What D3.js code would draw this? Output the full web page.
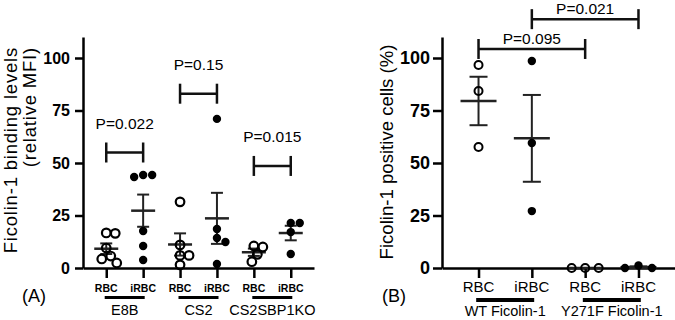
<!DOCTYPE html>
<html>
<head>
<meta charset="utf-8">
<script src="https://cdn.jsdelivr.net/npm/d3@7"></script>
<style>
  body { margin: 0; background: #fff; }
  svg { display: block; font-family: "Liberation Sans", Arial, sans-serif; }
</style>
</head>
<body>
<div id="chart"></div>
<script>
// ---- panel A data ----
const groupsA = ["E8B", "CS2", "CS2SBP1KO"];
const cellsA = ["RBC", "iRBC"];
const e8bRBC = [16.7, 16.5, 9.5, 5.7, 4.3, 2.4];
const e8bIRBC = [44.3, 43.3, 44.3, 17.6, 10.5, 3.8];
const cs2RBC = [31.5, 11, 6, 6, 1.5];
const cs2IRBC = [71, 18.6, 14.3, 12.4, 1.9];
const koRBC = [10.5, 10, 6.5, 3];
const koIRBC = [21.4, 21.4, 17.1, 6.7];
const pLabelsA = ["P=0.022", "P=0.15", "P=0.015"];
const pHeightsA = [55, 83, 48.6];

// ---- panel B data ----
const groupsB = ["WT Ficolin-1", "Y271F Ficolin-1"];
const cellsB = ["RBC", "iRBC"];
const wtRBC = [96.7, 84.3, 57.6];
const wtIRBC = [98.6, 59.5, 27.1];
const yfRBC = [0, 0, 0];
const yfIRBC = [0, 1.2, 0];
const pLabelsB = ["P=0.095", "P=0.021"];
const pHeightsB = [104.3, 118.5];

const yTicks = [0, 25, 50, 75, 100];

const svg = d3.select("#chart").append("svg")
  .attr("width", 675)
  .attr("height", 320);

const y = d3.scaleLinear().domain([0, 110]).range([268, 37]);

// series for each panel
const seriesA = [
  { key: "E8B RBC", vals: e8bRBC, open: true },
  { key: "E8B iRBC", vals: e8bIRBC, open: false },
  { key: "CS2 RBC", vals: cs2RBC, open: true },
  { key: "CS2 iRBC", vals: cs2IRBC, open: false },
  { key: "CS2SBP1KO RBC", vals: koRBC, open: true },
  { key: "CS2SBP1KO iRBC", vals: koIRBC, open: false }
];
const seriesB = [
  { key: "WT RBC", vals: wtRBC, open: true },
  { key: "WT iRBC", vals: wtIRBC, open: false },
  { key: "Y271F RBC", vals: yfRBC, open: true },
  { key: "Y271F iRBC", vals: yfIRBC, open: false }
];

const xA = d3.scalePoint().domain(seriesA.map(d => d.key)).range([83, 314]).padding(0.63);
const xB = d3.scalePoint().domain(seriesB.map(d => d.key)).range([442, 675]).padding(0.685);

// simple dodge so overlapping points spread sideways
function dodge(vals, minDist) {
  const sorted = vals.map(v => ({ v: v, py: y(v) })).sort((a, b) => a.py - b.py);
  const placed = [];
  sorted.forEach(p => {
    for (let k = 0; k < 60; k++) {
      const off = (k % 2 === 1 ? 1 : -1) * Math.ceil(k / 2) * 0.5;
      const ok = placed.every(q => Math.hypot(q.dx - off, q.py - p.py) >= minDist);
      if (ok) { p.dx = off; break; }
    }
    placed.push(p);
  });
  return placed;
}

function drawPanel(opt) {
  const g = svg.append("g");
  const x = opt.x;

  // y axis
  const yAxis = g.append("g")
    .attr("transform", `translate(${opt.x0},0)`)
    .call(d3.axisLeft(y).tickValues(yTicks).tickSize(opt.tickLen).tickSizeOuter(0).tickPadding(opt.tickPad));
  yAxis.selectAll("path, line").attr("stroke", "#000").attr("stroke-width", 2.5);
  yAxis.selectAll("text")
    .attr("fill", "#000")
    .style("font-size", opt.tickFont + "px")
    .style("font-weight", "bold")
    .style("font-family", "Liberation Sans, Arial, sans-serif");

  // x axis
  const xAxis = g.append("g")
    .attr("transform", `translate(0,${y(0)})`)
    .call(d3.axisBottom(x).tickSize(10).tickSizeOuter(0).tickFormat(""));
  xAxis.selectAll("path, line").attr("stroke", "#000").attr("stroke-width", 2.5);

  // category labels
  opt.series.forEach((s, i) => {
    g.append("text")
      .attr("x", x(s.key))
      .attr("y", 292)
      .attr("text-anchor", "middle")
      .style("font-size", opt.catFont + "px")
      .style("font-weight", opt.catBold ? "bold" : "normal")
      .text(opt.cells[i % 2]);
  });

  // group bars + labels
  opt.groups.forEach((grp, gi) => {
    const mid = (x(opt.series[gi * 2].key) + x(opt.series[gi * 2 + 1].key)) / 2;
    g.append("line")
      .attr("x1", mid - opt.barHalf).attr("x2", mid + opt.barHalf)
      .attr("y1", opt.barY).attr("y2", opt.barY)
      .attr("stroke", "#000").attr("stroke-width", opt.barW);
    g.append("text")
      .attr("x", mid)
      .attr("y", opt.groupY)
      .attr("text-anchor", "middle")
      .style("font-size", opt.groupFont + "px")
      .text(grp);
  });

  // mean +/- SEM
  opt.series.forEach(s => {
    const cx = x(s.key);
    const m = d3.mean(s.vals);
    const sem = d3.deviation(s.vals) / Math.sqrt(s.vals.length);
    const e = g.append("g").attr("stroke", "#222").attr("stroke-width", 2);
    e.append("line").attr("x1", cx).attr("x2", cx).attr("y1", y(m - sem)).attr("y2", y(m + sem));
    [m - sem, m + sem].forEach(v => {
      e.append("line").attr("x1", cx - opt.capHalf).attr("x2", cx + opt.capHalf)
        .attr("y1", y(v)).attr("y2", y(v));
    });
    e.append("line").attr("x1", cx - opt.meanHalf).attr("x2", cx + opt.meanHalf)
      .attr("y1", y(m)).attr("y2", y(m)).attr("stroke-width", 2.5);
  });

  // points
  opt.series.forEach(s => {
    const cx = x(s.key);
    g.selectAll(null)
      .data(dodge(s.vals, opt.minDist))
      .enter().append("circle")
      .attr("cx", d => cx + d.dx)
      .attr("cy", d => d.py)
      .attr("r", s.open ? opt.rOpen : opt.rFill)
      .attr("fill", s.open ? "none" : "#000")
      .attr("stroke", "#000")
      .attr("stroke-width", s.open ? opt.openStroke : 0);
  });

  // significance brackets
  opt.brackets.forEach(b => {
    const x1 = x(b.from), x2 = x(b.to), by = y(b.h);
    const br = g.append("g").attr("stroke", "#111").attr("stroke-width", 2.5);
    br.append("line").attr("x1", x1).attr("x2", x2).attr("y1", by).attr("y2", by);
    br.append("line").attr("x1", x1).attr("x2", x1).attr("y1", by - 10).attr("y2", by + 10);
    br.append("line").attr("x1", x2).attr("x2", x2).attr("y1", by - 10).attr("y2", by + 10);
    g.append("text")
      .attr("x", (x1 + x2) / 2)
      .attr("y", by - opt.pGap)
      .attr("text-anchor", "middle")
      .style("font-size", "15.5px")
      .text(b.label);
  });

  // panel letter
  g.append("text")
    .attr("x", opt.letterX)
    .attr("y", 302)
    .style("font-size", "18px")
    .text(opt.letter);

  return g;
}

drawPanel({
  x: xA, x0: 83, series: seriesA, cells: cellsA, groups: groupsA,
  tickLen: 8, tickPad: 5, tickFont: 16,
  catFont: 10.5, catBold: true,
  barHalf: 20, barY: 297.5, barW: 3, groupY: 315, groupFont: 14.5,
  capHalf: 6, meanHalf: 12, minDist: 9, rOpen: 4.3, rFill: 4.2, openStroke: 2.2,
  brackets: groupsA.map((grp, i) => ({
    from: grp + " RBC", to: grp + " iRBC", h: pHeightsA[i], label: pLabelsA[i]
  })),
  pGap: 24, letter: "(A)", letterX: 22
});

drawPanel({
  x: xB, x0: 442, series: seriesB, cells: cellsB, groups: groupsB,
  tickLen: 9, tickPad: 3, tickFont: 18,
  catFont: 15, catBold: false,
  barHalf: 29, barY: 300, barW: 4, groupY: 315.5, groupFont: 14.5,
  capHalf: 9, meanHalf: 18, minDist: 13.5, rOpen: 4, rFill: 4.2, openStroke: 2,
  brackets: [
    { from: "WT RBC", to: "Y271F RBC", h: pHeightsB[0], label: pLabelsB[0] },
    { from: "WT iRBC", to: "Y271F iRBC", h: pHeightsB[1], label: pLabelsB[1] }
  ],
  pGap: 5, letter: "(B)", letterX: 382
});

// y axis titles
const titleA = svg.append("text")
  .attr("transform", "translate(17,47) rotate(-90)")
  .attr("text-anchor", "end")
  .style("font-size", "18.5px")
  .style("letter-spacing", "0.8px");
titleA.append("tspan").attr("x", 0).attr("y", 0).text("Ficolin-1 binding levels");
titleA.append("tspan").attr("x", 0).attr("y", 19).text("(relative MFI)");

svg.append("text")
  .attr("transform", "translate(393,152) rotate(-90)")
  .attr("text-anchor", "middle")
  .style("font-size", "18.6px")
  .text("Ficolin-1 positive cells (%)");
</script>
</body>
</html>
